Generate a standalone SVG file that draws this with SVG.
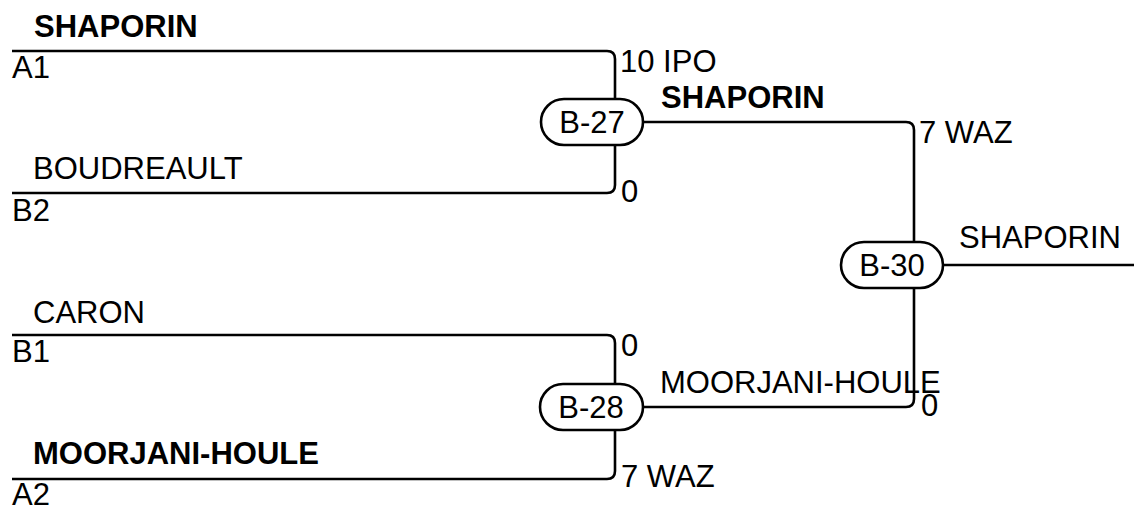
<svg xmlns="http://www.w3.org/2000/svg" width="1134" height="508" viewBox="0 0 1134 508">
<style>
.ln{fill:none;stroke:#000;stroke-width:2.6}
.pill{fill:#fff;stroke:#000;stroke-width:2.6}
text{font-family:"Liberation Sans",Arial,sans-serif;font-size:31px;fill:#000}
.b{font-weight:bold}
.c{text-anchor:middle}
</style>
<rect width="1134" height="508" fill="#fff"/>
<g id="connectors">
<path class="ln" d="M12,51 H607 Q615,51 615,59 V99"/>
<path class="ln" d="M12,193 H607 Q615,193 615,185 V145"/>
<path class="ln" d="M12,335 H607 Q615,335 615,343 V384"/>
<path class="ln" d="M12,479 H607 Q615,479 615,471 V430"/>
<path class="ln" d="M643,122 H906 Q914,122 914,130 V242"/>
<path class="ln" d="M643,407 H906 Q914,407 914,399 V288"/>
<path class="ln" d="M943,265 H1134"/>
</g>
<g id="labels">
<text class="b" x="34" y="37">SHAPORIN</text>
<text x="12" y="78">A1</text>
<text x="33" y="179">BOUDREAULT</text>
<text x="12" y="221">B2</text>
<text x="33" y="323">CARON</text>
<text x="12" y="362">B1</text>
<text class="b" x="33" y="464">MOORJANI-HOULE</text>
<text x="12" y="505">A2</text>
<text x="620" y="72">10 IPO</text>
<text x="621" y="202">0</text>
<text class="b" x="661" y="108">SHAPORIN</text>
<text x="919" y="143">7 WAZ</text>
<text x="621" y="356">0</text>
<text x="621" y="487">7 WAZ</text>
<text x="660" y="393">MOORJANI-HOULE</text>
<text x="921" y="416">0</text>
<text x="959" y="248">SHAPORIN</text>
</g>
<g id="B-27">
<rect class="pill" x="541" y="99" width="102" height="46" rx="23"/>
<text class="c" x="592" y="133">B-27</text>
</g>
<g id="B-28">
<rect class="pill" x="540" y="384" width="103" height="46" rx="23"/>
<text class="c" x="591" y="418">B-28</text>
</g>
<g id="B-30">
<rect class="pill" x="841" y="242" width="102" height="46" rx="23"/>
<text class="c" x="892" y="276">B-30</text>
</g>
</svg>
